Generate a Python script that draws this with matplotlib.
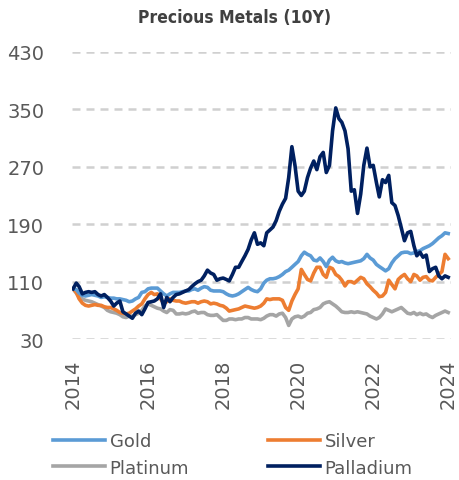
import numpy as np
import pandas as pd
import matplotlib
matplotlib.use("Agg")
import matplotlib.pyplot as plt
import matplotlib.dates as mdates

# ------------------ DATA (indexed, Jan 2014 = 100, monthly) ------------------
dates = pd.date_range("2014-01-01", periods=121, freq="MS")

gold = [100, 99, 94, 91, 90, 91, 92, 91, 90, 88, 89, 88,
        87, 87, 86, 86, 85, 84, 82, 83, 86, 88, 95, 96,
        100, 101, 101, 101, 97, 93, 90, 93, 95, 95, 95, 96,
        97, 97, 99, 100, 98, 101, 103, 102, 98, 97, 97, 97,
        96, 93, 91, 90, 91, 93, 96, 99, 102, 99, 97, 96,
        100, 108, 112, 114, 114, 115, 117, 120, 124, 126, 130, 134,
        138, 146, 151, 148, 146, 140, 139, 143, 138, 131, 140, 144,
        139, 137, 138, 136, 135, 136, 137, 138, 139, 142, 148, 143,
        140, 134, 131, 128, 125, 128, 136, 142, 146, 150, 151, 151,
        149, 150, 152, 153, 156, 158, 160, 163, 167, 171, 174, 178,
        177]

silver = [100, 95, 86, 80, 77, 76, 77, 78, 77, 77, 75, 74,
          74, 72, 70, 67, 66, 65, 66, 69, 72, 76, 79, 86,
          92, 95, 92, 93, 86, 80, 82, 86, 84, 83, 83, 81,
          80, 81, 82, 82, 80, 82, 83, 82, 79, 80, 79, 77,
          76, 73, 69, 70, 71, 72, 74, 76, 75, 74, 73, 74,
          76, 80, 86, 85, 86, 86, 86, 84, 74, 70, 83, 92,
          100, 127, 120, 113, 111, 122, 130, 130, 120, 116, 130, 128,
          120, 117, 112, 104, 110, 110, 108, 112, 116, 114, 107, 103,
          98, 94, 89, 90, 95, 112, 106, 100, 113, 117, 120, 114,
          110, 120, 118, 112, 116, 117, 112, 111, 116, 120, 124, 148,
          142]

platinum = [100, 94, 89, 86, 84, 83, 82, 80, 78, 76, 74, 70,
            68, 67, 66, 64, 61, 60, 62, 62, 64, 66, 70, 76,
            79, 77, 75, 73, 72, 69, 67, 71, 70, 65, 65, 66,
            65, 66, 68, 69, 66, 67, 67, 64, 63, 63, 64, 60,
            56, 56, 58, 58, 57, 58, 58, 60, 60, 58, 58, 58,
            57, 59, 62, 64, 64, 62, 65, 66, 60, 49, 58, 61,
            62, 60, 62, 66, 67, 71, 72, 74, 79, 81, 82, 79,
            76, 72, 68, 67, 67, 68, 67, 68, 67, 66, 65, 62,
            60, 58, 60, 65, 72, 70, 68, 70, 72, 74, 70, 66,
            65, 67, 64, 66, 64, 65, 62, 60, 63, 65, 67, 69,
            67]

palladium = [100, 108, 103, 93, 95, 96, 95, 96, 92, 90, 92, 88,
             83, 76, 80, 83, 68, 65, 62, 59, 66, 69, 64, 72,
             81, 82, 83, 86, 93, 74, 88, 82, 88, 92, 93, 95,
             97, 99, 103, 107, 110, 112, 118, 126, 122, 120, 112, 114,
             115, 113, 111, 120, 130, 130, 138, 146, 155, 168, 178, 162,
             164, 160, 178, 182, 186, 195, 208, 218, 226, 255, 298, 272,
             236, 230, 236, 255, 268, 278, 266, 284, 290, 262, 272, 320,
             352, 337, 332, 320, 295, 236, 238, 205, 232, 272, 296, 270,
             272, 248, 228, 252, 248, 258, 220, 216, 202, 185, 167, 178,
             180, 160, 146, 151, 144, 147, 124, 128, 130, 118, 114, 118,
             116]

series = {"Gold": gold, "Silver": silver, "Platinum": platinum, "Palladium": palladium}
colors = {"Gold": "#5b9bd5", "Silver": "#ed7d31", "Platinum": "#a5a5a5", "Palladium": "#002060"}

y_ticks = [30, 110, 190, 270, 350, 430]
x_years = [2014, 2016, 2018, 2020, 2022, 2024]

# ------------------ PLOT ------------------
plt.rcParams["font.family"] = ["DejaVu Sans"]
text_color = "#595959"

fig = plt.figure(figsize=(4.59, 4.81), dpi=100)
ax = fig.add_axes([0.157, 0.293, 0.826, 0.597])

lines = {}
for name in ["Platinum", "Silver", "Gold", "Palladium"]:
    lines[name], = ax.plot(dates, series[name], color=colors[name], lw=2.6,
                           solid_joinstyle="round", label=name, zorder=3)

ax.set_ylim(30, 430)
ax.set_yticks(y_ticks)
ax.set_xlim(pd.Timestamp("2013-12-22"), pd.Timestamp("2024-01-30"))
ax.set_xticks([pd.Timestamp(f"{y}-01-01") for y in x_years])
ax.xaxis.set_major_formatter(mdates.DateFormatter("%Y"))
ax.tick_params(axis="x", labelrotation=90, length=0, pad=14, labelsize=14, labelcolor=text_color)
ax.tick_params(axis="y", length=0, pad=20, labelsize=14, labelcolor=text_color)
for s in ax.spines.values():
    s.set_visible(False)

# dashed horizontal gridlines at the y ticks
for v in y_ticks:
    ax.axhline(v, color="#d0d0d0", lw=1.8, linestyle="--", dashes=(3.2, 2.4), zorder=2)

fig.text(0.51, 0.963, "Precious Metals (10Y)", ha="center", va="center",
         fontsize=12.5, fontweight="bold", fontstretch="condensed", color="#404040")

order = ["Gold", "Platinum", "Silver", "Palladium"]
fig.legend([lines[n] for n in order], order, loc="center", ncol=2,
           bbox_to_anchor=(0.507, 0.053), frameon=False, fontsize=13,
           handlelength=2.9, handletextpad=0.25, columnspacing=4.35,
           labelspacing=0.45, labelcolor=text_color)

fig.savefig("out.png", dpi=100)
